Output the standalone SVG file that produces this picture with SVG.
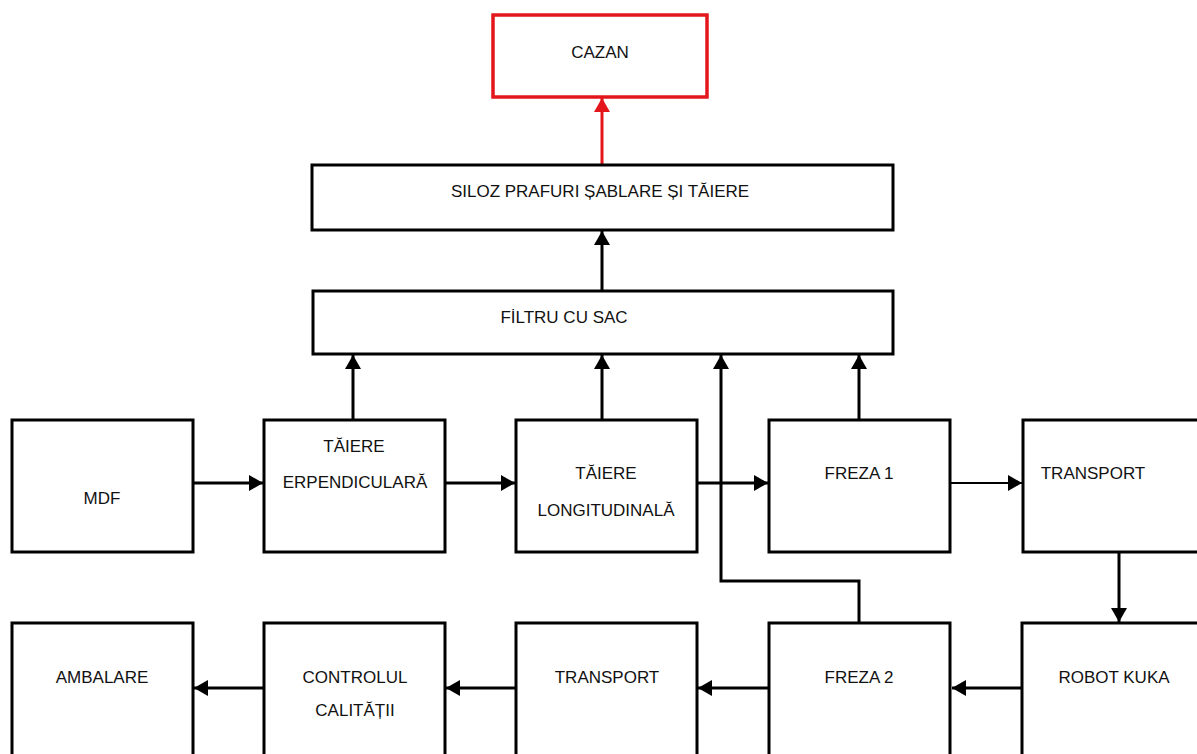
<svg xmlns="http://www.w3.org/2000/svg" width="1197" height="754" viewBox="0 0 1197 754">
  <defs>
    <style>
      .box { fill: #ffffff; stroke: #000000; stroke-width: 3; }
      .red { fill: #ffffff; stroke: #e3161b; stroke-width: 3.5; }
      .lbl { font-family: "Liberation Sans", Arial, sans-serif; font-size: 17px; fill: #111111; text-anchor: middle; }
      .con { fill: none; stroke: #000000; stroke-width: 3; }
      .thin { fill: none; stroke: #000000; stroke-width: 2; }
      .rcon { fill: none; stroke: #e3161b; stroke-width: 3; }
    </style>
    <marker id="ah" viewBox="0 0 14 16" refX="14" refY="8" markerWidth="14" markerHeight="16" markerUnits="userSpaceOnUse" orient="auto">
      <path d="M0,0 L14,8 L0,16 z" fill="#000000"/>
    </marker>
    <marker id="ahr" viewBox="0 0 14 16" refX="14" refY="8" markerWidth="14" markerHeight="16" markerUnits="userSpaceOnUse" orient="auto">
      <path d="M0,0 L14,8 L0,16 z" fill="#e3161b"/>
    </marker>
  </defs>
  <rect width="1197" height="754" fill="#ffffff"/>

  <g id="connectors">
    <path class="rcon" d="M602,164 L602,98" marker-end="url(#ahr)"/>
    <path class="con" d="M602,291 L602,231" marker-end="url(#ah)"/>
    <path class="con" d="M353,420 L353,355" marker-end="url(#ah)"/>
    <path class="con" d="M602,420 L602,355" marker-end="url(#ah)"/>
    <path class="con" d="M859,420 L859,355" marker-end="url(#ah)"/>
    <path class="con" d="M859,623 L859,581 L721,581 L721,355" marker-end="url(#ah)"/>
    <path class="con" d="M193,483 L263,483" marker-end="url(#ah)"/>
    <path class="con" d="M445,483 L515,483" marker-end="url(#ah)"/>
    <path class="con" d="M697,483 L768,483" marker-end="url(#ah)"/>
    <path class="thin" d="M951,483 L1022,483" marker-end="url(#ah)"/>
    <path class="con" d="M1119,552 L1119,622" marker-end="url(#ah)"/>
    <path class="con" d="M1022,688 L952,688" marker-end="url(#ah)"/>
    <path class="con" d="M769,688 L698,688" marker-end="url(#ah)"/>
    <path class="con" d="M516,688 L446,688" marker-end="url(#ah)"/>
    <path class="con" d="M264,688 L194,688" marker-end="url(#ah)"/>
  </g>

  <g id="cazan">
    <rect class="red" x="493" y="15" width="214" height="82"/>
    <text class="lbl" x="600" y="58">CAZAN</text>
  </g>
  <g id="siloz">
    <rect class="box" x="312" y="165" width="581" height="65"/>
    <text class="lbl" x="600" y="197">SILOZ PRAFURI ȘABLARE ȘI TĂIERE</text>
  </g>
  <g id="filtru">
    <rect class="box" x="313" y="291" width="580" height="63"/>
    <text class="lbl" x="564" y="323">FİLTRU CU SAC</text>
  </g>

  <g id="mdf">
    <rect class="box" x="12" y="420" width="181" height="132"/>
    <text class="lbl" x="102" y="504">MDF</text>
  </g>
  <g id="taiere-perpendiculara">
    <rect class="box" x="264" y="420" width="181" height="132"/>
    <text class="lbl" x="354" y="452">TĂIERE</text>
    <text class="lbl" x="355" y="488">ERPENDICULARĂ</text>
  </g>
  <g id="taiere-longitudinala">
    <rect class="box" x="516" y="420" width="181" height="132"/>
    <text class="lbl" x="606" y="479">TĂIERE</text>
    <text class="lbl" x="606" y="516">LONGITUDINALĂ</text>
  </g>
  <g id="freza1">
    <rect class="box" x="769" y="420" width="181" height="132"/>
    <text class="lbl" x="859" y="479">FREZA 1</text>
  </g>
  <g id="transport1">
    <rect class="box" x="1023" y="420" width="181" height="132"/>
    <text class="lbl" x="1093" y="479">TRANSPORT</text>
  </g>

  <g id="ambalare">
    <rect class="box" x="12" y="623" width="181" height="140"/>
    <text class="lbl" x="102" y="683">AMBALARE</text>
  </g>
  <g id="controlul-calitatii">
    <rect class="box" x="264" y="623" width="181" height="140"/>
    <text class="lbl" x="355" y="683">CONTROLUL</text>
    <text class="lbl" x="355" y="716">CALITĂȚII</text>
  </g>
  <g id="transport2">
    <rect class="box" x="516" y="623" width="181" height="140"/>
    <text class="lbl" x="607" y="683">TRANSPORT</text>
  </g>
  <g id="freza2">
    <rect class="box" x="769" y="623" width="181" height="140"/>
    <text class="lbl" x="859" y="683">FREZA 2</text>
  </g>
  <g id="robot-kuka">
    <rect class="box" x="1022" y="623" width="181" height="140"/>
    <text class="lbl" x="1114" y="683">ROBOT KUKA</text>
  </g>
</svg>
